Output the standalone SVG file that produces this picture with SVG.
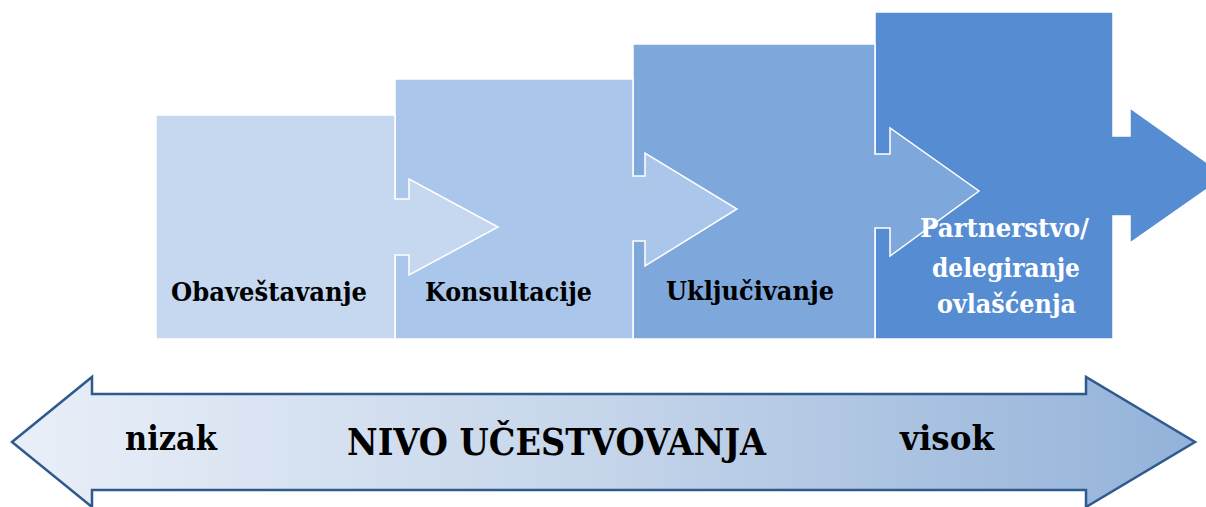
<svg xmlns="http://www.w3.org/2000/svg" width="1206" height="507" viewBox="0 0 1206 507">
<style>
.stage{stroke:#FFFFFF;stroke-width:1.5;stroke-linejoin:miter}
.lbl{font-family:"DejaVu Serif","Liberation Serif",serif;font-weight:bold;font-size:26px;fill:#000000}
.lblw{fill:#FFFFFF}
.axis{font-family:"DejaVu Serif","Liberation Serif",serif;font-weight:bold;fill:#000000}
</style>
<defs>
<linearGradient id="axisGrad" x1="0" y1="0" x2="1" y2="0">
<stop offset="0" stop-color="#E9EFF8"/>
<stop offset="0.5" stop-color="#C5D5EA"/>
<stop offset="1" stop-color="#93B2D9"/>
</linearGradient>
</defs>
<g id="stage4">
<polygon class="stage" fill="#568CD2" points="875,12 1113,12 1113,136 1130,136 1130,108 1226,176 1130,243 1130,216 1113,216 1113,339 875,339"/>
</g>
<g id="stage3">
<polygon class="stage" fill="#7EA7DC" points="633,44 875,44 875,154 890,154 890,128 979,191 890,256 890,228 875,228 875,339 633,339"/>
</g>
<g id="stage2">
<polygon class="stage" fill="#AAC7EB" points="395,79 633,79 633,176 645,176 645,153 737,209 645,266 645,241 633,241 633,339 395,339"/>
</g>
<g id="stage1">
<polygon class="stage" fill="#C6D8F0" points="156,115 395,115 395,199 409,199 409,179 498,227 409,275 409,255 395,255 395,339 156,339"/>
</g>
<g id="labels">
<text class="lbl" x="171" y="301" textLength="196" lengthAdjust="spacingAndGlyphs">Obaveštavanje</text>
<text class="lbl" x="425" y="301" textLength="167" lengthAdjust="spacingAndGlyphs">Konsultacije</text>
<text class="lbl" x="666" y="300" textLength="168" lengthAdjust="spacingAndGlyphs">Uključivanje</text>
<text class="lbl lblw" x="920" y="237" textLength="169" lengthAdjust="spacingAndGlyphs">Partnerstvo/</text>
<text class="lbl lblw" x="932" y="277" textLength="148" lengthAdjust="spacingAndGlyphs">delegiranje</text>
<text class="lbl lblw" x="937" y="313" textLength="139" lengthAdjust="spacingAndGlyphs">ovlašćenja</text>
</g>
<g id="axis">
<polygon fill="url(#axisGrad)" stroke="#2F5A8E" stroke-width="2.5" stroke-linejoin="miter" points="12,442 92,377 92,394 1086,394 1086,377 1195,442 1086,507 1086,490 92,490 92,507"/>
<text class="axis" x="125" y="450" font-size="33" textLength="92" lengthAdjust="spacingAndGlyphs">nizak</text>
<text class="axis" x="347" y="455" font-size="37" textLength="419" lengthAdjust="spacingAndGlyphs">NIVO UČESTVOVANJA</text>
<text class="axis" x="900" y="450" font-size="33" textLength="94" lengthAdjust="spacingAndGlyphs">visok</text>
</g>
</svg>
